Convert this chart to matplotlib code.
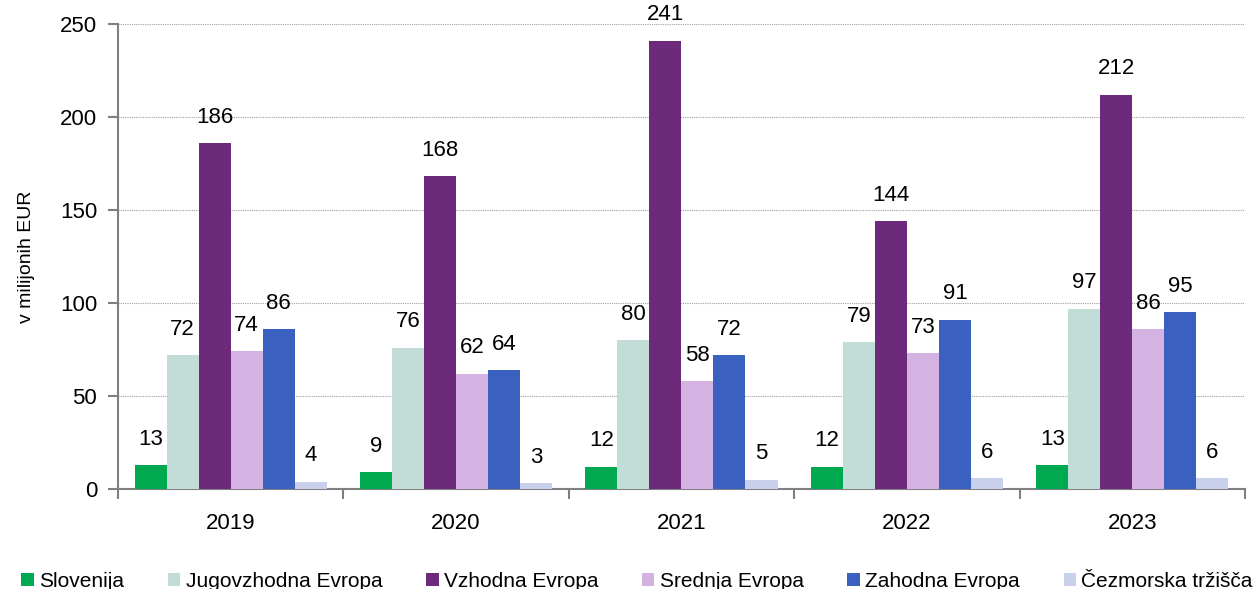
import matplotlib
matplotlib.use("Agg")
import matplotlib.pyplot as plt
import numpy as np
from matplotlib import font_manager

years = ["2019", "2020", "2021", "2022", "2023"]
series_names = ["Slovenija", "Jugovzhodna Evropa", "Vzhodna Evropa",
                "Srednja Evropa", "Zahodna Evropa", "Čezmorska tržišča"]
slovenija = [13, 9, 12, 12, 13]
jugovzhodna = [72, 76, 80, 79, 97]
vzhodna = [186, 168, 241, 144, 212]
srednja = [74, 62, 58, 73, 86]
zahodna = [86, 64, 72, 91, 95]
cezmorska = [4, 3, 5, 6, 6]
colors = ["#00A84F", "#C2DCD8", "#6E2A7A", "#D4B3E3", "#3A60C0", "#C8D0EC"]

names = {f.name for f in font_manager.fontManager.ttflist}
fam = "Liberation Sans Narrow" if "Liberation Sans Narrow" in names else "Liberation Sans"
plt.rcParams['font.family'] = [fam, 'DejaVu Sans']

fig = plt.figure(figsize=(12.54, 5.89), dpi=100)
ax = fig.add_axes([0.0941, 0.1698, 0.8987, 0.7895])

data = [slovenija, jugovzhodna, vzhodna, srednja, zahodna, cezmorska]
x = np.arange(len(years))
w = 0.142
for i, (vals, name, c) in enumerate(zip(data, series_names, colors)):
    pos = x - 2.5 * w + i * w
    bars = ax.bar(pos, vals, width=w, color=c, label=name, zorder=3)
    for b, v in zip(bars, vals):
        ax.annotate(str(v), (b.get_x() + b.get_width() / 2, v), xytext=(0, 11),
                    textcoords="offset points", ha="center", va="bottom", fontsize=16)

ax.set_xlim(-0.5, len(years) - 0.5)
ax.set_ylim(0, 250)
ax.set_yticks([0, 50, 100, 150, 200, 250])
ax.set_xticks(x)
ax.set_xticklabels(years)
ax.set_xticks(np.arange(-0.5, len(years)), minor=True)
ax.tick_params(axis='x', which='major', length=0, labelsize=16, pad=17)
ax.tick_params(axis='x', which='minor', length=7, color='#808080', width=1.5, direction='out')
ax.tick_params(axis='y', labelsize=16, length=7, color='#808080', width=1.5, direction='out', pad=8)
ax.grid(axis='y', linestyle=(0, (1, 1)), color='#A0A0A0', linewidth=0.8, zorder=0)
for s in ['top', 'right']:
    ax.spines[s].set_visible(False)
for s in ['left', 'bottom']:
    ax.spines[s].set_color('#808080')
    ax.spines[s].set_linewidth(1.5)
ax.set_ylabel("v milijonih EUR", fontsize=14, labelpad=18)

fig.legend(loc='lower center', bbox_to_anchor=(0.508, -0.035), ncol=6, frameon=False,
           fontsize=15, handlelength=0.6, handleheight=0.6, handletextpad=0.25,
           columnspacing=2.1)

fig.savefig("out.png", dpi=100)
